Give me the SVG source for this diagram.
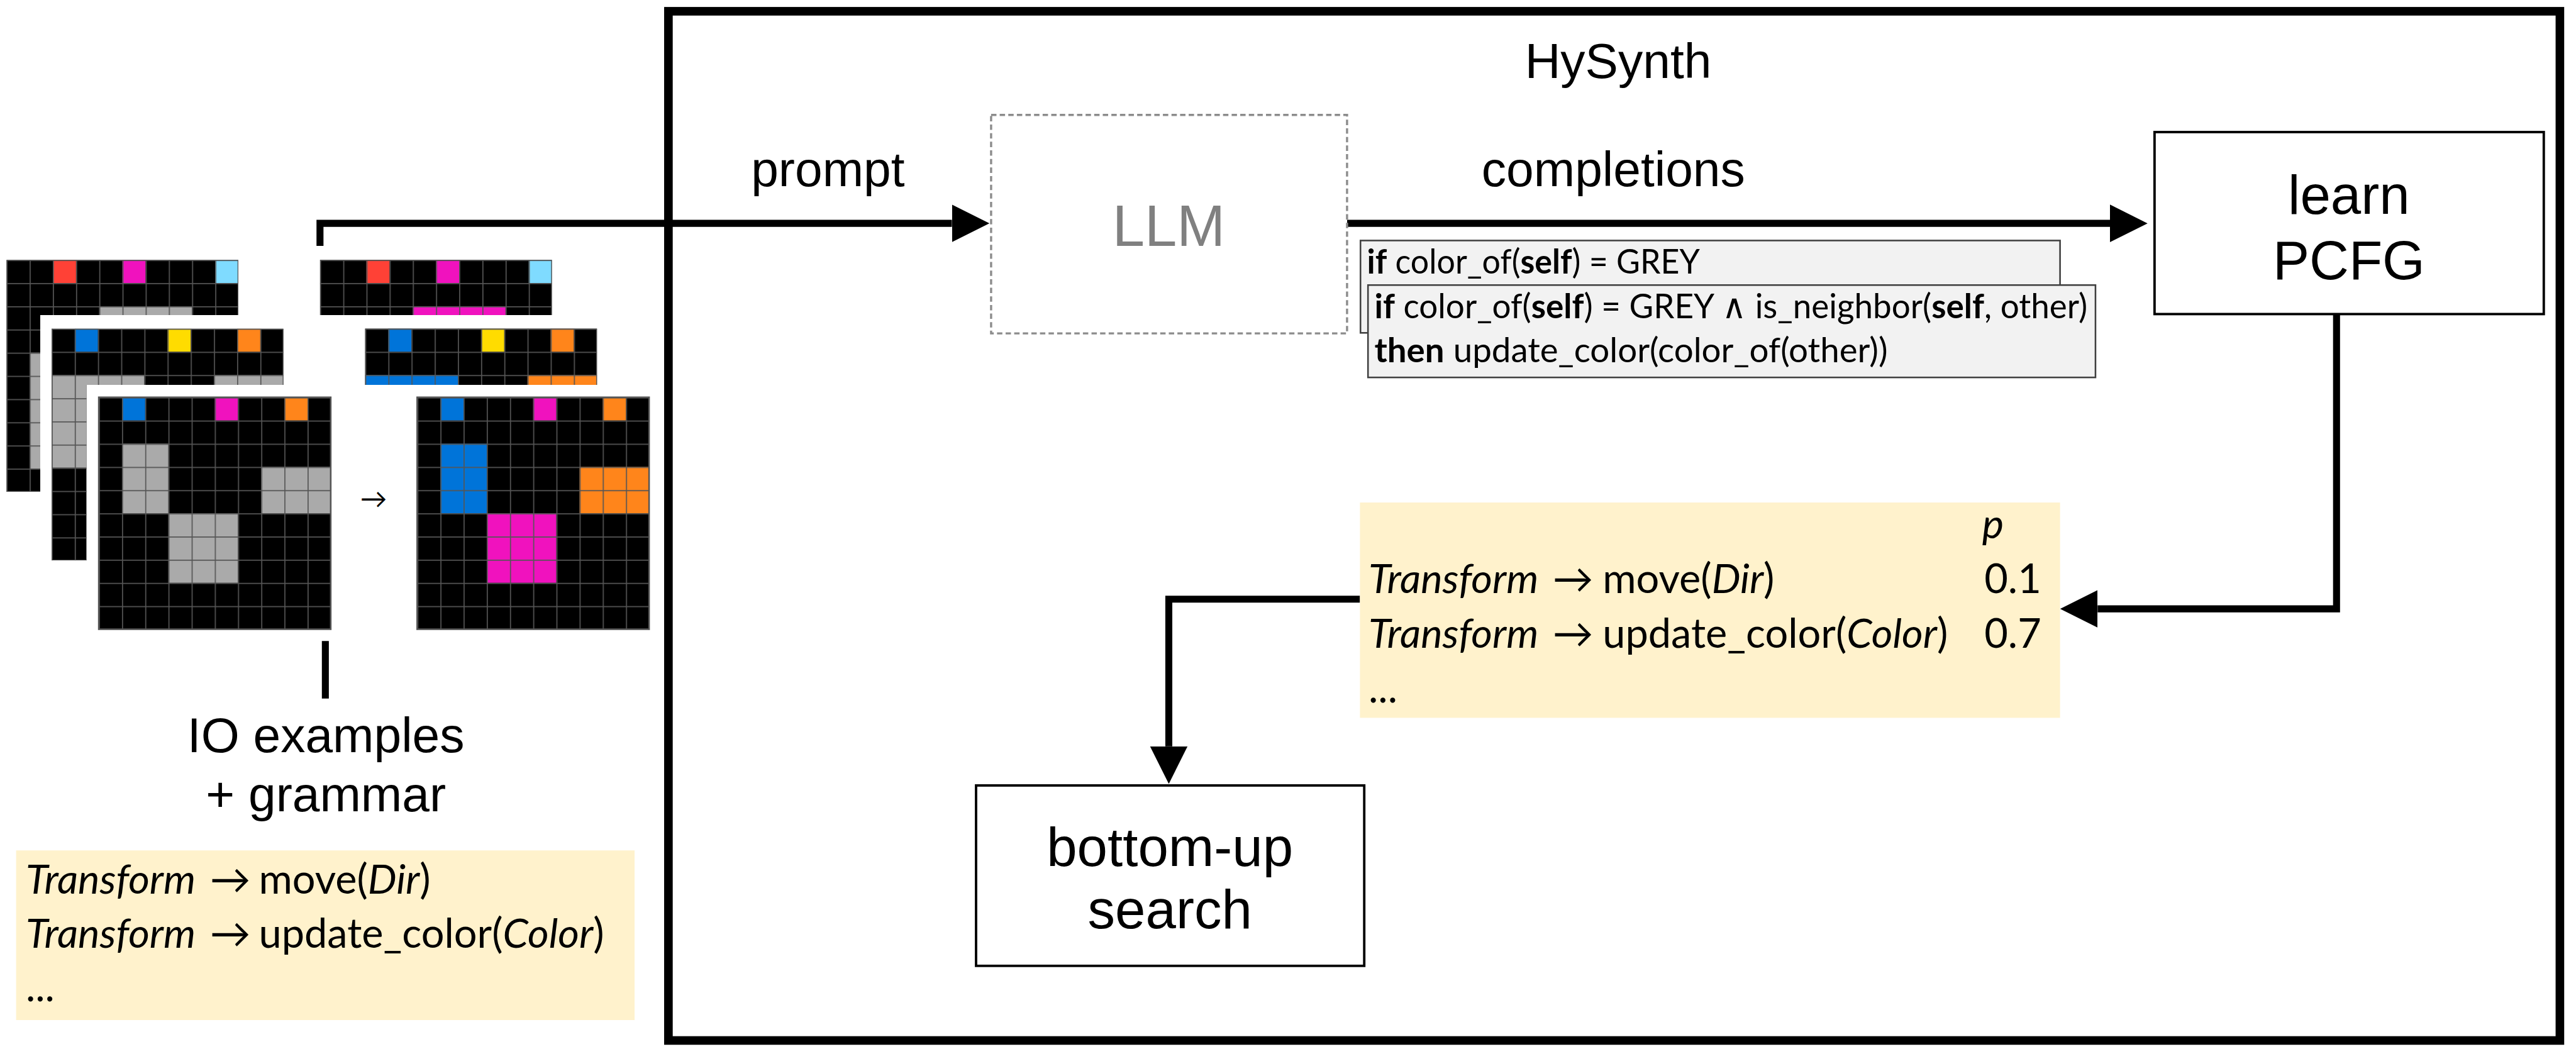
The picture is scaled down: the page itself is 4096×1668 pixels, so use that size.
<svg xmlns="http://www.w3.org/2000/svg" width="4096" height="1668" viewBox="0 0 4096 1668">
<style>
.lbl{font-family:"Liberation Sans",Arial,sans-serif;font-size:92px;fill:#000}
.mid{text-anchor:middle}
.node{font-family:"Liberation Sans",Arial,sans-serif;font-size:102px;text-anchor:middle;fill:#000}
.code{font-family:Lato,"Open Sans",sans-serif;font-size:63px;fill:#000}
.gram{font-family:Lato,"Open Sans",sans-serif;font-size:76px;fill:#000}
.it{font-style:italic}
.b{font-weight:bold}
.k{fill:#000}.g{fill:#aaaaaa}.r{fill:#ff4136}.m{fill:#f012be}.lb{fill:#7fdbff}.bl{fill:#0074d9}.y{fill:#ffdc00}.o{fill:#ff851b}
.lines{fill:url(#cells)}
.frame{fill:none;stroke:#555;stroke-width:3}
.wire{fill:none;stroke:#000;stroke-width:13}
.box{fill:#fff;stroke:#000;stroke-width:4.5}
.snip{fill:#f2f2f2;stroke:#404040;stroke-width:3}
.rules{fill:#fff2cc}
</style>
<defs>
<pattern id="cells" patternUnits="userSpaceOnUse" width="43.2" height="43.2">
<path d="M0 0H43.2M0 0V43.2" stroke="#555" stroke-width="4" fill="none"/>
</pattern>
<marker id="head" markerUnits="userSpaceOnUse" markerWidth="70" markerHeight="70" viewBox="0 0 70 70" refX="0" refY="35" orient="auto">
<path d="M0 0L70 35L0 70z" fill="#000"/>
</marker>
<clipPath id="clipInBack"><rect x="12" y="484" width="432" height="103"/><rect x="12" y="484" width="63" height="432"/></clipPath>
<clipPath id="clipInMid"><rect x="96" y="612" width="432" height="105"/><rect x="96" y="612" width="65" height="432"/></clipPath>
<clipPath id="clipOutBack"><rect x="596" y="484" width="432" height="103"/></clipPath>
<clipPath id="clipOutMid"><rect x="680" y="612" width="432" height="105"/></clipPath>
</defs>
<rect width="4096" height="1668" fill="#fff"/>
<g transform="scale(0.85369)">

<!-- connectors and their labels -->
<g id="connectors">
<path class="wire" d="M596 458V416H1773" marker-end="url(#head)"/>
<path class="wire" d="M2509 416H3930" marker-end="url(#head)"/>
<path class="wire" d="M4352 585V1134H3907" marker-end="url(#head)"/>
<path class="wire" d="M2533 1116H2177V1390" marker-end="url(#head)"/>
<path class="wire" d="M606 1194V1301"/>
<text class="lbl mid" x="1542" y="347">prompt</text>
<text class="lbl mid" x="3005" y="347">completions</text>
</g>

<!-- outer HySynth frame -->
<g id="hysynth">
<rect x="1245" y="21" width="3523" height="1917" fill="none" stroke="#000" stroke-width="16"/>
<text class="lbl mid" x="3014" y="145">HySynth</text>
</g>

<!-- input/output example grids -->
<g id="io-examples">
<g clip-path="url(#clipInBack)"><g transform="translate(12,484)">
<rect class="k" width="432" height="432"/>
<rect class="r" x="86.4" width="43.2" height="43.2"/>
<rect class="m" x="216" width="43.2" height="43.2"/>
<rect class="lb" x="388.8" width="43.2" height="43.2"/>
<rect class="g" x="172.8" y="86.4" width="172.8" height="43.2"/>
<rect class="g" x="43.2" y="172.8" width="43.2" height="216"/>
<rect class="lines" width="432" height="432"/><rect class="frame" width="432" height="432"/>
</g></g>
<g clip-path="url(#clipInMid)"><g transform="translate(96,612)">
<rect class="k" width="432" height="432"/>
<rect class="bl" x="43.2" width="43.2" height="43.2"/>
<rect class="y" x="216" width="43.2" height="43.2"/>
<rect class="o" x="345.6" width="43.2" height="43.2"/>
<rect class="g" x="0" y="86.4" width="172.8" height="172.8"/>
<rect class="g" x="302.4" y="86.4" width="129.6" height="43.2"/>
<rect class="lines" width="432" height="432"/><rect class="frame" width="432" height="432"/>
</g></g>
<g transform="translate(184,740)">
<rect class="k" width="432" height="432"/>
<rect class="bl" x="43.2" width="43.2" height="43.2"/>
<rect class="m" x="216" width="43.2" height="43.2"/>
<rect class="o" x="345.6" width="43.2" height="43.2"/>
<rect class="g" x="43.2" y="86.4" width="86.4" height="129.6"/>
<rect class="g" x="302.4" y="129.6" width="129.6" height="86.4"/>
<rect class="g" x="129.6" y="216" width="129.6" height="129.6"/>
<rect class="lines" width="432" height="432"/><rect class="frame" width="432" height="432"/>
</g>
<text x="696" y="947" font-family="Lato,sans-serif" font-size="50" text-anchor="middle">→</text>
<g clip-path="url(#clipOutBack)"><g transform="translate(596,484)">
<rect class="k" width="432" height="432"/>
<rect class="r" x="86.4" width="43.2" height="43.2"/>
<rect class="m" x="216" width="43.2" height="43.2"/>
<rect class="lb" x="388.8" width="43.2" height="43.2"/>
<rect class="m" x="172.8" y="86.4" width="172.8" height="43.2"/>
<rect class="lines" width="432" height="432"/><rect class="frame" width="432" height="432"/>
</g></g>
<g clip-path="url(#clipOutMid)"><g transform="translate(680,612)">
<rect class="k" width="432" height="432"/>
<rect class="bl" x="43.2" width="43.2" height="43.2"/>
<rect class="y" x="216" width="43.2" height="43.2"/>
<rect class="o" x="345.6" width="43.2" height="43.2"/>
<rect class="bl" x="0" y="86.4" width="172.8" height="43.2"/>
<rect class="o" x="302.4" y="86.4" width="129.6" height="43.2"/>
<rect class="lines" width="432" height="432"/><rect class="frame" width="432" height="432"/>
</g></g>
<g transform="translate(777,740)">
<rect class="k" width="432" height="432"/>
<rect class="bl" x="43.2" width="43.2" height="43.2"/>
<rect class="m" x="216" width="43.2" height="43.2"/>
<rect class="o" x="345.6" width="43.2" height="43.2"/>
<rect class="bl" x="43.2" y="86.4" width="86.4" height="129.6"/>
<rect class="o" x="302.4" y="129.6" width="129.6" height="86.4"/>
<rect class="m" x="129.6" y="216" width="129.6" height="129.6"/>
<rect class="lines" width="432" height="432"/><rect class="frame" width="432" height="432"/>
</g>
<text class="lbl mid" x="607" y="1401">IO examples</text>
<text class="lbl mid" x="607" y="1511">+ grammar</text>
</g>

<!-- base grammar -->
<g id="grammar">
<rect class="rules" x="30" y="1584" width="1152" height="316"/>
<text class="gram" y="1665"><tspan x="48" class="it">Transform</tspan><tspan x="391">→</tspan><tspan x="482">move(</tspan><tspan class="it">Dir</tspan><tspan>)</tspan></text>
<text class="gram" y="1765"><tspan x="48" class="it">Transform</tspan><tspan x="391">→</tspan><tspan x="482">update_color(</tspan><tspan class="it">Color</tspan><tspan>)</tspan></text>
<text class="gram" x="48" y="1865">...</text>
</g>

<!-- LLM -->
<g id="llm">
<rect x="1846" y="214" width="663" height="407" fill="#fff" stroke="#8c8c8c" stroke-width="4" stroke-dasharray="10 6"/>
<text x="2177" y="458" font-family="Liberation Sans,sans-serif" font-size="108" fill="#808080" text-anchor="middle">LLM</text>
</g>

<!-- sampled completions -->
<g id="completions">
<rect class="snip" x="2534" y="448" width="1303" height="172"/>
<text class="code" x="2546" y="510" textLength="620" lengthAdjust="spacingAndGlyphs"><tspan class="b">if</tspan> color_of(<tspan class="b">self</tspan>) = GREY</text>
<rect class="snip" x="2548" y="531" width="1355" height="172"/>
<text class="code" x="2560" y="593" textLength="1328" lengthAdjust="spacingAndGlyphs"><tspan class="b">if</tspan> color_of(<tspan class="b">self</tspan>) = GREY ∧ is_neighbor(<tspan class="b">self</tspan>, other)</text>
<text class="code" x="2560" y="675" textLength="956" lengthAdjust="spacingAndGlyphs"><tspan class="b">then</tspan> update_color(color_of(other))</text>
</g>

<!-- learn PCFG -->
<g id="learn-pcfg">
<rect class="box" x="4013" y="246" width="725" height="339"/>
<text class="node" x="4375" y="398">learn</text>
<text class="node" x="4375" y="520">PCFG</text>
</g>

<!-- weighted grammar -->
<g id="pcfg">
<rect class="rules" x="2533" y="936" width="1304" height="401"/>
<text class="gram it" x="3692" y="1003">p</text>
<text class="gram" y="1105"><tspan x="2549" class="it">Transform</tspan><tspan x="2892">→</tspan><tspan x="2985">move(</tspan><tspan class="it">Dir</tspan><tspan>)</tspan></text>
<text class="gram" x="3696" y="1105">0.1</text>
<text class="gram" y="1207"><tspan x="2549" class="it">Transform</tspan><tspan x="2892">→</tspan><tspan x="2985">update_color(</tspan><tspan class="it">Color</tspan><tspan>)</tspan></text>
<text class="gram" x="3696" y="1207">0.7</text>
<text class="gram" x="2549" y="1309">...</text>
</g>

<!-- bottom-up search -->
<g id="bottom-up-search">
<rect class="box" x="1818" y="1463" width="723" height="336"/>
<text class="node" x="2179" y="1613" font-size="100">bottom-up</text>
<text class="node" x="2179" y="1729" font-size="100">search</text>
</g>

</g>
</svg>
